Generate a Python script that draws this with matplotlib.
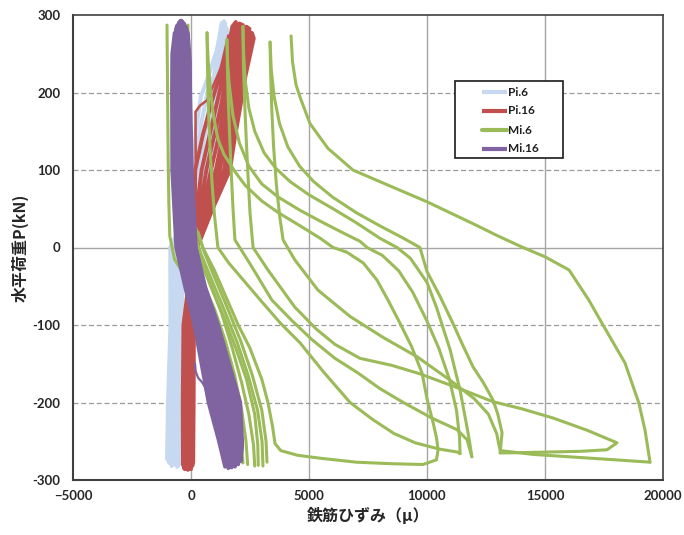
import matplotlib
matplotlib.use("Agg")
import matplotlib.pyplot as plt
from matplotlib.patches import Rectangle
from matplotlib.lines import Line2D

# ---- strain (micro) / load (kN) readings for each gauge ----
# Pi.6: repeated cycles, one path per cycle (top -> bottom)
pi6_cycles = [
    [(1300, 289), (1100, 255), (700, 218), (420, 195), (200, 150), (130, 110), (90, 60), (-880, 0), (-870, -100), (-975, -200), (-1015, -272)],
    [(1400, 292), (1230, 258), (950, 220), (700, 200), (430, 160), (280, 120), (180, 80), (-770, 0), (-760, -100), (-870, -200), (-920, -278)],
    [(1450, 288), (1330, 258), (1100, 220), (880, 200), (650, 160), (470, 120), (330, 80), (-660, 0), (-660, -100), (-770, -200), (-820, -282)],
    [(1500, 283), (1420, 258), (1250, 220), (1060, 200), (850, 160), (650, 120), (480, 80), (-550, 0), (-570, -100), (-660, -200), (-700, -279)],
    [(1550, 276), (1500, 255), (1380, 220), (1220, 200), (1020, 160), (820, 120), (620, 80), (-440, 0), (-470, -100), (-550, -200), (-590, -283)],
    [(1580, 270), (1550, 250), (1480, 220), (1350, 200), (1180, 160), (950, 120), (720, 80), (-340, 0), (-380, -100), (-430, -200), (-460, -278)],
]

# Pi.16: first loading branch, then repeated cycles
pi16_first = [(200, 0), (200, 100), (190, 175), (380, 183), (680, 190), (1100, 220), (1520, 250), (2070, 287)]
pi16_cycles = [
    [(1600, 272), (1200, 220), (850, 185), (500, 145), (180, 100), (110, 50), (90, 0), (-320, -100), (-350, -200), (-340, -280)],
    [(1750, 285), (1350, 220), (1050, 180), (750, 140), (450, 100), (250, 50), (130, 0), (-250, -100), (-280, -200), (-270, -286)],
    [(1900, 291), (1500, 220), (1250, 180), (950, 140), (650, 100), (380, 50), (160, 0), (-170, -100), (-200, -200), (-200, -283)],
    [(2050, 289), (1650, 220), (1400, 180), (1150, 140), (850, 100), (500, 50), (190, 0), (-90, -100), (-120, -200), (-130, -287)],
    [(2200, 287), (1800, 220), (1560, 180), (1320, 140), (1050, 100), (620, 50), (210, 0), (-20, -100), (-50, -200), (-60, -284)],
    [(2350, 285), (1950, 220), (1720, 180), (1480, 140), (1220, 100), (720, 50), (230, 0), (40, -100), (10, -200), (0, -286)],
    [(2480, 282), (2080, 220), (1850, 180), (1620, 140), (1400, 100), (800, 50), (245, 0), (80, -100), (60, -200), (50, -282)],
    [(2580, 277), (2200, 220), (1980, 180), (1760, 140), (1550, 100), (870, 50), (255, 0), (100, -100), (90, -200), (80, -279)],
    [(2660, 270), (2300, 220), (2080, 180), (1850, 140), (1650, 100), (920, 50), (260, 0), (110, -100), (110, -200), (95, -275)],
]

# Mi.6: individual branches of the growing loops
mi6_branches = [
    [(-1017, 287), (-1000, 230), (-985, 170), (-965, 110), (-940, 60), (-900, 15), (-700, -15), (-200, -40), (400, -65), (900, -90), (1300, -115), (1650, -150), (1900, -185), (2050, -220), (2150, -255), (2200, -278)],
    [(-470, 287), (-460, 230), (-445, 170), (-420, 110), (-380, 60), (-300, 20), (-50, -10), (500, -45), (1000, -80), (1450, -120), (1850, -165), (2150, -210), (2330, -250), (2400, -280)],
    [(-130, 287), (-120, 230), (-105, 170), (-80, 110), (-30, 60), (60, 20), (300, -10), (800, -45), (1300, -85), (1750, -130), (2150, -175), (2450, -215), (2650, -255), (2700, -282)],
    [(2850, -281), (2830, -255), (2700, -215), (2350, -170), (1900, -130), (1400, -90), (900, -55), (450, -20), (200, 5), (60, 40)],
    [(3220, -277), (3180, -250), (3000, -210), (2600, -165), (2100, -120), (1500, -75), (950, -35), (550, -5), (300, 20)],
    [(3050, -282), (3010, -250), (2820, -210), (2420, -165), (1950, -122), (1400, -80), (850, -40), (420, -8), (180, 15)],
    [(200, 25), (500, 0), (1000, -30), (1500, -65), (2000, -100), (2500, -130), (3000, -170), (3260, -200), (3450, -230), (3560, -253), (3800, -262), (4500, -268), (5500, -272), (7000, -277), (8500, -279), (9830, -280), (10400, -274), (10470, -261), (10400, -245), (10250, -225), (10000, -195), (9790, -162), (9350, -128), (8860, -98), (8350, -68), (7880, -42), (7300, -20), (6600, -6), (6020, 0), (5470, 12), (4620, 28), (3700, 45), (3000, 60), (2300, 80), (1860, 98), (1400, 120), (1140, 140), (950, 170), (820, 205), (730, 240), (690, 265), (680, 277)],
    [(680, 277), (695, 240), (720, 200), (760, 160), (820, 120), (900, 80), (1000, 40), (1140, 0), (1600, -20), (2300, -45), (3000, -70), (3800, -98), (4620, -123), (5600, -160), (6740, -200), (7700, -222), (8600, -240), (9500, -252), (10500, -260), (11300, -264), (11400, -266)],
    [(11400, -266), (11380, -245), (11250, -210), (10950, -170), (10500, -130), (10000, -95), (9400, -58), (8800, -30), (8100, -10), (7460, 0), (7160, 8), (6500, 18), (5600, 32), (4620, 48), (3700, 65), (3000, 82), (2450, 105), (2050, 135), (1780, 170), (1620, 210), (1550, 240), (1525, 268)],
    [(1525, 268), (1545, 230), (1580, 190), (1630, 150), (1700, 100), (1780, 50), (1860, 10), (2580, -25), (3430, -68), (4300, -95), (5130, -119), (6100, -143), (7080, -162), (8000, -182), (9000, -200), (10200, -220), (11270, -235), (11700, -248), (11900, -270)],
    [(11900, -270), (11800, -250), (11690, -231), (11400, -184), (10980, -132), (10400, -77), (10000, -45), (9300, -14), (8730, 0), (8000, 12), (7000, 32), (6020, 50), (5000, 68), (4200, 85), (3600, 102), (3100, 122), (2700, 150), (2450, 180), (2300, 215), (2230, 250), (2200, 285)],
    [(2200, 285), (2220, 240), (2270, 190), (2340, 140), (2420, 90), (2500, 45), (2630, 0), (3260, -29), (4400, -77), (5300, -105), (6100, -125), (7160, -143), (8500, -152), (9700, -163), (11200, -180), (12800, -199), (14000, -208), (15340, -220), (16800, -236), (18050, -252), (17630, -261), (16500, -263), (15000, -264), (13500, -265), (13100, -265)],
    [(13100, -265), (13180, -239), (13000, -215), (12800, -197), (12400, -175), (11950, -154), (11500, -125), (11100, -98), (10550, -63), (10000, -31), (9700, 0), (9000, 12), (8000, 28), (7000, 45), (6000, 65), (5200, 85), (4600, 105), (4100, 130), (3750, 160), (3520, 195), (3400, 230), (3350, 265)],
    [(3350, 265), (3370, 230), (3420, 180), (3500, 130), (3620, 80), (3760, 40), (3900, 10), (4400, -16), (5380, -55), (6740, -89), (8140, -116), (9580, -141), (10970, -171), (12000, -195), (12600, -215), (12950, -240), (13100, -262), (14500, -267), (16500, -271), (18000, -274), (19450, -277)],
    [(19450, -277), (19240, -236), (18980, -201), (18390, -149), (17420, -98), (16860, -68), (16020, -29), (15000, -12), (14070, 0), (13000, 15), (12000, 30), (10000, 59), (8000, 85), (6860, 100), (5800, 128), (5040, 160), (4620, 194), (4450, 210), (4300, 240), (4240, 273)],
]

# Mi.16: first loading branch, then repeated cycles
mi16_first = [(170, -150), (200, -160), (300, -168), (470, -174), (590, -180), (680, -190)]
mi16_cycles = [
    [(-700, 276), (-800, 250), (-810, 200), (-800, 100), (-630, 0), (-260, -50), (140, -100), (440, -150), (740, -200), (1180, -250), (1440, -283)],
    [(-640, 282), (-730, 250), (-740, 200), (-730, 100), (-540, 0), (-180, -50), (220, -100), (550, -150), (860, -200), (1280, -250), (1500, -280)],
    [(-580, 287), (-660, 250), (-670, 200), (-660, 100), (-450, 0), (-100, -50), (310, -100), (660, -150), (980, -200), (1370, -250), (1580, -285)],
    [(-520, 290), (-590, 250), (-600, 200), (-590, 100), (-360, 0), (-10, -50), (400, -100), (760, -150), (1110, -200), (1460, -250), (1650, -279)],
    [(-470, 292), (-520, 250), (-530, 200), (-510, 100), (-270, 0), (80, -50), (500, -100), (870, -150), (1250, -200), (1560, -250), (1720, -284)],
    [(-420, 293), (-450, 250), (-460, 200), (-430, 100), (-180, 0), (170, -50), (600, -100), (980, -150), (1390, -200), (1660, -250), (1790, -277)],
    [(-370, 292), (-380, 250), (-390, 200), (-350, 100), (-90, 0), (260, -50), (700, -100), (1100, -150), (1530, -200), (1770, -250), (1860, -283)],
    [(-320, 290), (-310, 250), (-310, 200), (-270, 100), (0, 0), (350, -50), (800, -100), (1220, -150), (1670, -200), (1880, -250), (1930, -272)],
    [(-270, 288), (-240, 250), (-230, 200), (-180, 100), (80, 0), (440, -50), (910, -100), (1340, -150), (1800, -200), (1990, -250), (2000, -280)],
    [(-220, 285), (-170, 250), (-150, 200), (-90, 100), (140, 0), (510, -50), (1020, -100), (1460, -150), (1940, -200), (2080, -250), (2070, -268)],
    [(-170, 281), (-100, 250), (-70, 200), (-10, 100), (180, 0), (560, -50), (1100, -100), (1560, -150), (2040, -200), (2150, -257), (2110, -276)],
    [(-130, 276), (-40, 240), (-30, 200), (40, 100), (210, 0), (600, -50), (1150, -100), (1620, -150), (2090, -200), (2170, -250), (2140, -262)],
]

series_names = ["Pi.6", "Pi.16", "Mi.6", "Mi.16"]
series_colors = ["#c6d9f1", "#c0504d", "#9bbb59", "#8064a2"]

x_ticks = [-5000, 0, 5000, 10000, 15000, 20000]
x_tick_labels = ["\u22125000", "0", "5000", "10000", "15000", "20000"]
y_ticks = [-300, -200, -100, 0, 100, 200, 300]
y_tick_labels = ["-300", "-200", "-100", "0", "100", "200", "300"]

x_label = "鉄筋ひずみ（μ）"
y_label = "水平荷重P(kN)"


def cycle_path(cycles):
    """Join cycles into one continuous back-and-forth path."""
    xs, ys = [], []
    for i, cyc in enumerate(cycles):
        pts = cyc if i % 2 == 0 else cyc[::-1]
        for x, y in pts:
            xs.append(x)
            ys.append(y)
    return xs, ys


def split(points):
    return [p[0] for p in points], [p[1] for p in points]


tick_font = dict(family=["Lato", "DejaVu Sans"], weight="bold", size=9.5)
cjk = ["Noto Sans CJK JP", "DejaVu Sans"]

fig = plt.figure(figsize=(6.84, 5.35), dpi=100)
ax = fig.add_axes([73 / 684, 1 - 480 / 535, 590 / 684, 465 / 535])
ax.set_xlim(-5000, 20000)
ax.set_ylim(-300, 300)

# grid
for xv in [0, 5000, 10000, 15000]:
    ax.axvline(xv, color="#a5a5a5", lw=1.0, zorder=0.5)
for yv in [-200, -100, 100, 200]:
    ax.axhline(yv, color="#9a9a9a", lw=0.9, ls=(0, (4, 2.2)), zorder=0.5)
ax.axhline(0, color="#a5a5a5", lw=1.0, zorder=0.5)

c_pi6, c_pi16, c_mi6, c_mi16 = series_colors

xs, ys = cycle_path(pi6_cycles)
ax.plot(xs, ys, color=c_pi6, lw=2.9, solid_joinstyle="round", zorder=2)

xs, ys = cycle_path(pi16_cycles)
ax.plot(xs, ys, color=c_pi16, lw=2.8, solid_joinstyle="round", zorder=3)
ax.plot(*split(pi16_first), color=c_pi16, lw=1.8, zorder=3)

for br in mi6_branches:
    ax.plot(*split(br), color=c_mi6, lw=2.2, solid_joinstyle="round",
            solid_capstyle="round", zorder=4)

xs, ys = cycle_path(mi16_cycles)
ax.plot(xs, ys, color=c_mi16, lw=2.6, solid_joinstyle="round", zorder=5)
ax.plot(*split(mi16_first), color=c_mi16, lw=1.6, zorder=5)

# axes styling
for s in ax.spines.values():
    s.set_color("#404040")
    s.set_linewidth(1.2)
ax.spines["left"].set_linewidth(1.5)
ax.spines["bottom"].set_linewidth(1.5)

ax.set_xticks(x_ticks)
ax.set_xticklabels(x_tick_labels, fontdict=tick_font, color="#262626")
ax.set_yticks(y_ticks)
ax.set_yticklabels(y_tick_labels, fontdict=tick_font, color="#262626")
ax.tick_params(axis="both", length=0)
ax.tick_params(axis="x", pad=7)
ax.tick_params(axis="y", pad=9)

ax.set_xlabel(x_label, family=cjk, weight="bold", fontsize=11.5, color="#262626")
ax.xaxis.set_label_coords(0.5, (480 - 515) / 465)
ax.xaxis.label.set_va("center")
ax.set_ylabel(y_label, family=cjk, weight="bold", fontsize=11.5, color="#262626")
ax.yaxis.set_label_coords((20 - 73) / 590, 0.5)
ax.yaxis.label.set_va("center")

# legend box
bx0, bx1 = (455 - 73) / 590, (563 - 73) / 590
by0, by1 = (480 - 158) / 465, (480 - 81) / 465
ax.add_patch(Rectangle((bx0, by0), bx1 - bx0, by1 - by0, transform=ax.transAxes,
                       facecolor="white", edgecolor="#1a1a1a", lw=1.2, zorder=10))
rows = [(480 - r) / 465 for r in (92, 111, 130, 149)]
lx0, lx1 = (482 - 73) / 590, (507 - 73) / 590
tx = (508 - 73) / 590
for name, col, ry in zip(series_names, series_colors, rows):
    ax.add_line(Line2D([lx0, lx1], [ry, ry], transform=ax.transAxes, color=col,
                       lw=3.0, solid_capstyle="round" if name == "Mi.6" else "butt",
                       zorder=11))
    ax.text(tx, ry, name, transform=ax.transAxes, ha="left", va="center",
            family=["Lato", "DejaVu Sans"], weight="bold", fontsize=8.5,
            color="#1f1f1f", zorder=11)

fig.savefig("out.png", dpi=100)
